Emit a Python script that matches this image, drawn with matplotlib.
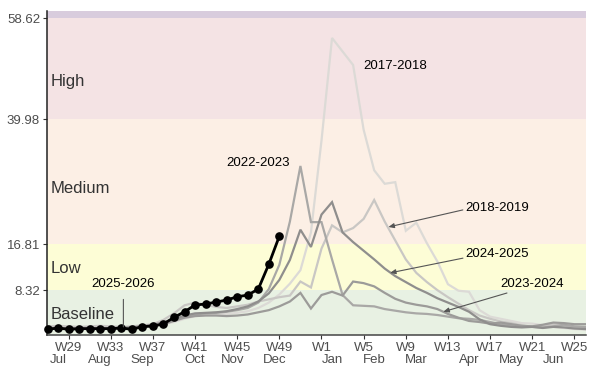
import matplotlib
matplotlib.use("Agg")
import matplotlib.pyplot as plt
import numpy as np

plt.rcParams['font.family'] = ['Liberation Sans', 'DejaVu Sans']

# ---- data ----
weeks = [f"W{w}" for w in list(range(27, 53)) + list(range(1, 27))]
week_tick_labels = ["W29", "W33", "W37", "W41", "W45", "W49", "W1", "W5", "W9", "W13", "W17", "W21", "W25"]
month_labels = ["Jul", "Aug", "Sep", "Oct", "Nov", "Dec", "Jan", "Feb", "Mar", "Apr", "May", "Jun"]
month_week_pos = [1.0, 5.0, 9.0, 14.0, 17.6, 21.6, 27.0, 31.0, 35.0, 40.0, 44.0, 48.0]

thresholds = [8.32, 16.81, 39.98, 58.62]
zone_names = ["Baseline", "Low", "Medium", "High"]

s2017_2018 = [1.3, 1.4, 1.3, 1.4, 1.5, 1.4, 1.3, 1.4, 1.5, 1.6, 1.8, 2.0, 2.4, 3.0, 3.5, 3.7,
              3.8, 3.9, 4.1, 4.4, 5.0, 6.0, 7.5, 9.5, 12.0, 19.0, 36.0, 55.0, 52.5, 50.0, 38.0, 30.5,
              28.0, 28.3, 19.3, 20.8, 17.0, 13.6, 9.4, 8.2, 8.0, 4.6, 3.4, 3.0, 2.6, 2.2, 2.1, 1.8,
              1.5, 1.3, 1.1, 1.0]
s2018_2019 = [1.6, 1.7, 1.6, 1.5, 1.6, 1.7, 1.6, 1.5, 1.6, 1.8, 2.0, 2.8, 4.0, 5.5, 6.0, 5.6,
              5.2, 5.0, 5.3, 5.6, 6.2, 6.6, 7.0, 7.3, 9.9, 8.8, 16.0, 20.3, 19.0, 19.8, 21.5, 25.0,
              21.0, 17.5, 14.0, 11.5, 9.8, 8.3, 7.0, 5.8, 4.6, 3.6, 3.0, 2.5, 2.2, 1.8, 1.5, 1.7,
              2.0, 1.8, 1.4, 1.3]
s2022_2023 = [1.2, 1.3, 1.2, 1.2, 1.3, 1.2, 1.2, 1.3, 1.4, 1.6, 1.8, 2.2, 2.8, 3.4, 3.8, 4.0,
              4.1, 4.3, 4.6, 5.0, 6.0, 8.5, 13.0, 21.0, 31.3, 20.9, 20.9, 14.0, 7.4, 5.5, 5.4, 5.3,
              4.8, 4.5, 4.2, 4.0, 3.9, 3.7, 3.4, 3.1, 3.0, 2.8, 2.4, 2.0, 1.8, 1.6, 1.5, 1.4,
              1.6, 1.9, 1.6, 1.5]
s2023_2024 = [1.1, 1.2, 1.1, 1.2, 1.2, 1.1, 1.2, 1.2, 1.3, 1.5, 1.7, 2.0, 2.6, 3.2, 3.5, 3.6,
              3.6, 3.5, 3.6, 3.8, 4.2, 4.6, 5.3, 6.2, 7.8, 4.9, 7.4, 8.0, 7.3, 9.9, 9.6, 9.0,
              7.8, 6.7, 6.0, 5.6, 5.3, 4.8, 3.9, 3.2, 2.6, 2.4, 2.1, 2.3, 2.0, 1.7, 1.6, 1.9,
              2.3, 2.2, 2.0, 2.0]
s2024_2025 = [1.3, 1.3, 1.2, 1.3, 1.3, 1.2, 1.3, 1.3, 1.4, 1.6, 1.9, 2.3, 3.0, 3.6, 4.0, 4.1,
              4.2, 4.4, 4.8, 5.3, 6.2, 7.7, 10.2, 13.9, 19.5, 16.3, 22.3, 24.6, 19.0, 17.2, 15.6, 14.0,
              12.3, 10.9, 9.8, 8.7, 7.8, 6.8, 6.0, 5.2, 4.3, 2.9, 2.0, 1.7, 1.5, 1.4, 1.5, 1.3,
              1.5, 1.4, 1.2, 1.1]
s2025_2026 = [1.05, 1.29, 1.05, 1.17, 1.17, 1.17, 1.17, 1.29, 1.05, 1.54, 1.66, 2.03, 3.26, 4.3,
              5.55, 5.73, 6.1, 6.47, 7.08, 7.39, 8.5, 13.1, 18.3]

past_seasons = {
    "2017-2018": s2017_2018,
    "2018-2019": s2018_2019,
    "2022-2023": s2022_2023,
    "2023-2024": s2023_2024,
    "2024-2025": s2024_2025,
}

# ---- styling ----
season_colors = {
    "2017-2018": "#dcdad6",
    "2018-2019": "#c9c7c4",
    "2022-2023": "#a9a8a6",
    "2023-2024": "#9c9b99",
    "2024-2025": "#8f8e8d",
}
band_colors = ["#e8f1e3", "#fdfdd6", "#fcefe5", "#f4e3e4", "#d8ccdd"]

fig = plt.figure(figsize=(6.07, 3.75), dpi=100)
ax = fig.add_axes([0.0774, 0.1067, 0.888, 0.864])

ymax = 60
edges = [0] + thresholds + [ymax]
for k in range(len(edges) - 1):
    ax.axhspan(edges[k], edges[k + 1], color=band_colors[k], lw=0, zorder=0)

x_all = np.arange(len(weeks))
for name, vals in past_seasons.items():
    ax.plot(x_all[:len(vals)], vals, color=season_colors[name], lw=1.6, zorder=2,
            solid_joinstyle='miter')

ax.plot(x_all[:len(s2025_2026)], s2025_2026, color="black", lw=2.0, marker="o",
        markersize=5.2, zorder=5, clip_on=False)

# zone labels
zone_label_y = [3.8, 12.4, 27.2, 47.0]
for name, yv in zip(zone_names, zone_label_y):
    ax.text(0.3, yv, name, fontsize=12, color="#333333", ha="left", va="center", zorder=6)

# season labels
lab_kw = dict(fontsize=9.5, color="black", zorder=7)
ax.text(33.0, 49.9, "2017-2018", ha="center", va="center", **lab_kw)
ax.text(20.0, 31.8, "2022-2023", ha="center", va="center", **lab_kw)
arrow_kw = dict(arrowstyle="-|>,head_length=0.35,head_width=0.15", color="#555555", lw=0.8,
                shrinkA=0, shrinkB=0)
ax.annotate("2018-2019", xy=(32.35, 20.0), xytext=(42.7, 23.5), ha="center", va="center",
            arrowprops=dict(**arrow_kw, relpos=(0, 0.4)), **lab_kw)
ax.annotate("2024-2025", xy=(32.5, 11.5), xytext=(42.7, 15.0), ha="center", va="center",
            arrowprops=dict(**arrow_kw, relpos=(0, 0.2)), **lab_kw)
ax.annotate("2023-2024", xy=(37.56, 4.3), xytext=(46.0, 9.4), ha="center", va="center",
            arrowprops=dict(**arrow_kw, relpos=(0.25, 0.0)), **lab_kw)
ax.annotate("2025-2026", xy=(7.2, 1.5), xytext=(7.2, 9.5), ha="center", va="center",
            arrowprops=dict(arrowstyle="-", color="#555555", lw=0.8, shrinkA=5, shrinkB=0,
                            relpos=(0.5, 0.0)), **lab_kw)

ax.set_xlim(-0.05, 51.1)
ax.set_ylim(0, ymax)

# axes
ax.set_yticks(thresholds)
ax.set_yticklabels([f"{t:.2f}" for t in thresholds])
week_pos = [weeks.index(w) for w in week_tick_labels]
ax.set_xticks(week_pos)
ax.set_xticklabels(week_tick_labels)
ax.xaxis.remove_overlapping_locs = False
ax.set_xticks(month_week_pos, minor=True)
ax.set_xticklabels(month_labels, minor=True)
ax.tick_params(axis="x", which="major", length=3, width=0.8, pad=2, labelsize=9.5,
               labelcolor="#4d4d4d", color="#333333")
ax.tick_params(axis="x", which="minor", length=0, pad=14, labelsize=9.5, labelcolor="#4d4d4d")
ax.tick_params(axis="y", length=3, width=0.8, pad=2, labelsize=9.5, labelcolor="#4d4d4d",
               color="#333333")

for sp in ["top", "right"]:
    ax.spines[sp].set_visible(False)
ax.spines["left"].set_color("#222222")
ax.spines["left"].set_linewidth(1.1)
ax.spines["bottom"].set_color("#444444")
ax.spines["bottom"].set_linewidth(1.1)

fig.savefig("out.png", dpi=100)
